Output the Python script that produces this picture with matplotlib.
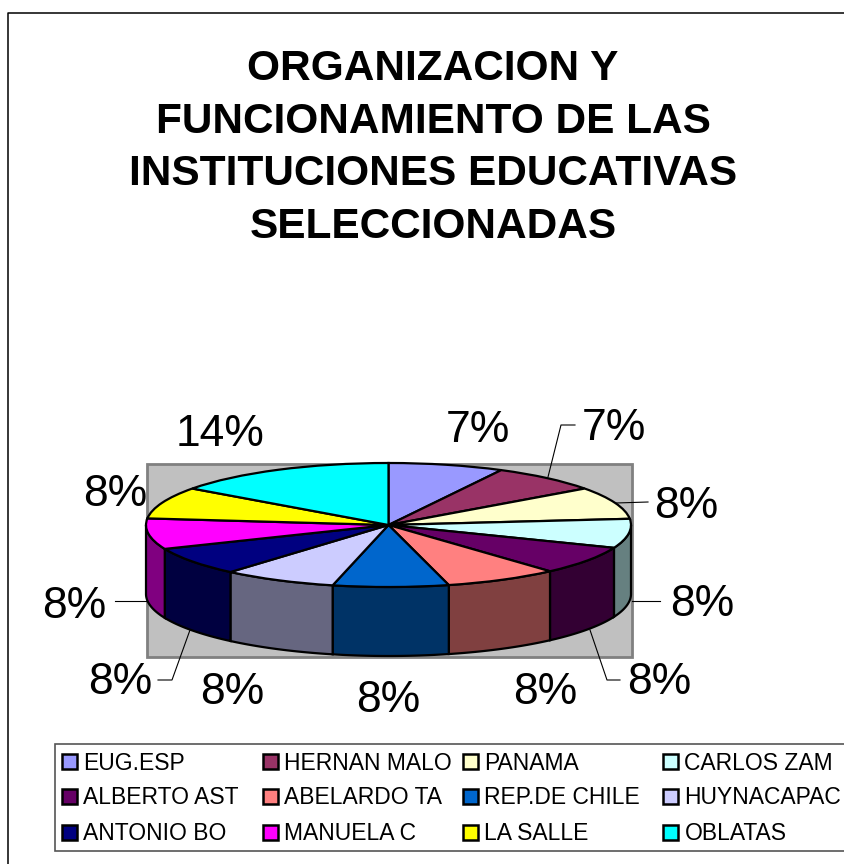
import matplotlib
matplotlib.use("Agg")
import matplotlib.pyplot as plt
from matplotlib.patches import Rectangle
from matplotlib.colors import to_rgb
import numpy as np

plt.rcParams["font.family"] = ["Liberation Sans", "DejaVu Sans"]

title = "ORGANIZACION Y\nFUNCIONAMIENTO DE LAS\nINSTITUCIONES EDUCATIVAS\nSELECCIONADAS"

schools = ["EUG.ESP", "HERNAN MALO", "PANAMA", "CARLOS ZAM",
           "ALBERTO AST", "ABELARDO TA", "REP.DE CHILE", "HUYNACAPAC",
           "ANTONIO BO", "MANUELA C", "LA SALLE", "OBLATAS"]
# slice sizes
shares = [7.7, 7.3, 8.4, 7.6, 7.4, 7.6, 7.7, 7.6, 7.4, 8.0, 8.3, 15.0]
pct_labels = ["7%", "7%", "8%", "8%", "8%", "8%", "8%", "8%", "8%", "8%", "8%", "14%"]
colors = ["#9999FF", "#993366", "#FFFFCC", "#CCFFFF", "#660066", "#FF8080",
          "#0066CC", "#CCCCFF", "#000080", "#FF00FF", "#FFFF00", "#00FFFF"]

label_x = [478, 614, 686, 702, 659, 545, 388, 232, 120, 74, 115, 220]
label_y = [431, 429, 507, 605, 683, 693, 701, 692, 683, 607, 495, 435]

leaders = [([548, 561, 575], [477, 425, 425]),
           ([616, 648], [503, 502]),
           ([632, 660], [601, 601]),
           ([590, 607, 620], [630, 680, 680]),
           ([147, 115], [601, 601]),
           ([190, 172, 158], [630, 680, 680])]

W, H = 845, 864
fig = plt.figure(figsize=(W / 100, H / 100), dpi=100)

# page axes in pixels, for frame, labels and legend
bg = fig.add_axes([0, 0, 1, 1])
bg.set_xlim(0, W)
bg.set_ylim(H, 0)
bg.axis("off")

bg.plot([8.5, 8.5, W], [H, 13, 13], color="black", lw=1.1)
bg.text(433, 148, title, ha="center", va="center", fontsize=30.5, fontweight="bold",
        linespacing=1.41)

bg.add_patch(Rectangle((147, 464), 485, 193, fc="#C0C0C0", ec="#808080", lw=2))

for lx, ly in leaders:
    bg.plot(lx, ly, color="black", lw=0.8)
for x, y, s in zip(label_x, label_y, pct_labels):
    bg.text(x, y, s, ha="center", va="center", fontsize=32)

# legend
bg.add_patch(Rectangle((55, 744), W, 107, fc="white", ec="#555555", lw=1.2))
col_x = [62, 263, 463, 663]
row_y = [761, 796, 832]
for i, name in enumerate(schools):
    x = col_x[i % 4]
    y = row_y[i // 4]
    bg.add_patch(Rectangle((x + 0.5, y - 7.5), 15, 15, fc=colors[i], ec="black", lw=1.8))
    bg.text(x + 21.5, y + 2, name, ha="left", va="center", fontsize=16.5)

# pie: squashed axes so the circle becomes an ellipse
cx, cy, rx, ry, depth = 388.5, 525, 242.5, 62, 69
top = cy - ry
bottom = cy + ry + depth
ax = fig.add_axes([(cx - rx) / W, 1 - bottom / H, 2 * rx / W, (bottom - top) / H])
ax.patch.set_alpha(0)
wedges, _ = ax.pie(shares, colors=colors, startangle=90, counterclock=False,
                   wedgeprops={"edgecolor": "black", "linewidth": 1.6})
for w in wedges:
    w.set_clip_on(False)

# side wall, only the front half of the rim shows
d = depth / ry
edges = np.cumsum([0] + shares) / sum(shares) * 360
for i in range(len(shares)):
    a0 = max(edges[i], 90)
    a1 = min(edges[i + 1], 270)
    if a1 <= a0:
        continue
    t = np.radians(np.linspace(a0, a1, 60))
    xs = np.sin(t)
    ys = np.cos(t)
    shade = tuple(c * 0.5 for c in to_rgb(colors[i]))
    ax.fill(np.r_[xs, xs[::-1]], np.r_[ys, ys[::-1] - d], fc=shade, ec="black",
            lw=1.6, zorder=0.5, clip_on=False)

ax.set_aspect("auto")
ax.set_xlim(-1, 1)
ax.set_ylim(-1 - d, 1)
ax.axis("off")

fig.savefig("out.png", dpi=100)
